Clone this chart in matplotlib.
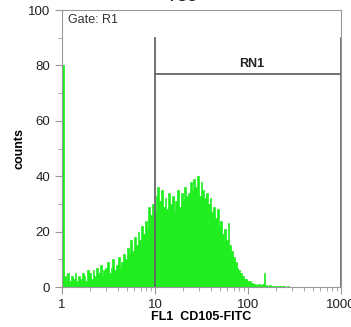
import numpy as np
import matplotlib
matplotlib.use('Agg')
from matplotlib import pyplot as plt

plt.rcParams['font.family'] = ['Liberation Sans', 'DejaVu Sans']

# histogram channels: 50 per decade on log10 scale, from 1 to 1000
decades = (0.0, 3.0)
counts = [
    80, 4, 3, 5, 2,   4, 3, 5, 2, 4,   3, 5, 4, 2, 6,
    5, 3, 6, 4, 7,    5, 8, 4, 6, 7,   9, 5, 7, 10, 6,
    8, 11, 7, 9, 12,  10, 14, 12, 17, 13,  18, 15, 20, 17, 22,
    19, 24, 21, 29, 26,  30, 27, 33, 36, 31,  35, 29, 32, 28, 34,
    30, 33, 27, 31, 35,  29, 34, 31, 36, 33,  34, 38, 35, 39, 36,
    40, 33, 38, 35, 32,  34, 30, 32, 27, 29,  25, 28, 22, 24, 19,
    21, 17, 23, 15, 13,  11, 9, 7, 6, 5,   4, 3, 3, 2, 2,
    1.5, 1, 1.2, 0.8, 1,  0.8, 1, 5, 0.7, 0.5,  0.6, 0.4, 0.5, 0.3, 0.4,
    0.3, 0.2, 0.3, 0.2, 0.1,  0.2, 0.1, 0, 0.1, 0,  0, 0.1, 0, 0, 0,
    0, 0, 0, 0, 0,  0, 0, 0, 0, 0,  0, 0, 0, 0, 0,
    0, 0, 0, 0, 0,
]

gate_lo, gate_hi, gate_y = 10, 1000, 77
gate_name = 'RN1'
title = 'FSC'

edges = np.logspace(decades[0], decades[1], len(counts) + 1)

fig = plt.figure(figsize=(3.51, 3.27), dpi=100)
ax = fig.add_axes([0.1766, 0.1223, 0.7949, 0.8471])

ax.bar(edges[:-1], counts, width=np.diff(edges), align='edge',
       color='#1eee1e', edgecolor='#1eee1e', linewidth=0.5)

ax.set_xscale('log')
ax.set_xlim(1, 1000)
ax.set_ylim(0, 100)
ax.set_yticks([0, 20, 40, 60, 80, 100])
ax.set_yticks([10, 30, 50, 70, 90], minor=True)
ax.set_xticks([1, 10, 100, 1000])
ax.set_xticklabels(['1', '10', '100', '1000'])

for s in ax.spines.values():
    s.set_color('#999999')
ax.tick_params(which='both', colors='#999999', labelcolor='#222222',
               labelsize=9.5)
ax.tick_params(which='major', length=5)
ax.tick_params(which='minor', length=3)

# gate marker
ax.plot([gate_lo, gate_lo], [0, 90], color='#666666', lw=1.3)
ax.plot([gate_hi, gate_hi], [0, 90], color='#666666', lw=1.3, clip_on=False)
ax.plot([gate_lo, gate_hi], [gate_y, gate_y], color='#666666', lw=1.3,
        clip_on=False)
ax.text(110, gate_y + 1.5, gate_name, ha='center', va='bottom',
        fontsize=9, fontweight='bold', color='#222222')

ax.text(0.02, 0.985, 'Gate: R1', transform=ax.transAxes, ha='left',
        va='top', fontsize=9, color='#333333')

ax.set_ylabel('counts', fontsize=9, fontweight='bold', labelpad=2)
ax.set_xlabel('FL1  CD105-FITC', fontsize=9, fontweight='bold', labelpad=0)

fig.text(0.52, 1.008, title, ha='center', va='center', fontsize=10,
         fontweight='bold', color='#222222')

fig.savefig('out.png', dpi=100)
